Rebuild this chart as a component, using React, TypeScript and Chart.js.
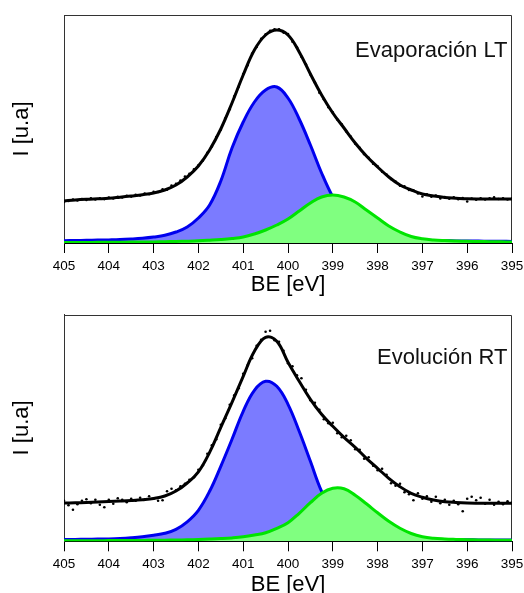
import React, { useEffect, useRef } from "react";
import { Chart, registerables } from "chart.js";
Chart.register(...registerables);

// Binding energy grids (eV)
const fitBE = [405, 404.75, 404.5, 404.25, 404, 403.75, 403.5, 403.25, 403, 402.75, 402.5, 402.25, 402, 401.75, 401.5, 401.25, 401, 400.75, 400.5, 400.25, 400, 399.75, 399.5, 399.25, 399, 398.75, 398.5, 398.25, 398, 397.75, 397.5, 397.25, 397, 396.75, 396.5, 396.25, 396, 395.75, 395.5, 395.25, 395];
const dataBE = [405.0, 404.9, 404.8, 404.7, 404.6, 404.5, 404.4, 404.3, 404.2, 404.1, 404.0, 403.9, 403.8, 403.7, 403.6, 403.5, 403.4, 403.3, 403.2, 403.1, 403.0, 402.9, 402.8, 402.7, 402.6, 402.5, 402.4, 402.3, 402.2, 402.1, 402.0, 401.9, 401.8, 401.7, 401.6, 401.5, 401.4, 401.3, 401.2, 401.1, 401.0, 400.9, 400.8, 400.7, 400.6, 400.5, 400.4, 400.3, 400.2, 400.1, 400.0, 399.9, 399.8, 399.7, 399.6, 399.5, 399.4, 399.3, 399.2, 399.1, 399.0, 398.9, 398.8, 398.7, 398.6, 398.5, 398.4, 398.3, 398.2, 398.1, 398.0, 397.9, 397.8, 397.7, 397.6, 397.5, 397.4, 397.3, 397.2, 397.1, 397.0, 396.9, 396.8, 396.7, 396.6, 396.5, 396.4, 396.3, 396.2, 396.1, 396.0, 395.9, 395.8, 395.7, 395.6, 395.5, 395.4, 395.3, 395.2, 395.1, 395.0];

// Panel 1: Evaporación LT
const topFit = [42, 43, 43.7, 44.2, 44.7, 45.8, 47, 48.3, 50, 53, 58, 66, 77, 93, 114, 140, 168, 193, 208, 213, 208, 191, 169, 148, 130, 115, 100, 87, 76, 66, 58, 53, 49, 47, 45.5, 44.8, 44.2, 44, 44, 44, 44];
const topBlue = [2.3, 2.5, 2.7, 2.9, 3.1, 3.4, 4, 4.8, 6, 7.7, 11, 16, 25, 38, 62, 95, 121, 141, 153, 156, 145, 124, 98, 70, 46, 28, 16, 10, 6.5, 4.8, 3.8, 3.2, 2.8, 2.5, 2.3, 2.1, 2, 1.9, 1.8, 1.7, 1.6];
const topGreen = [0.5, 0.55, 0.6, 0.65, 0.7, 0.8, 0.9, 1.0, 1.1, 1.3, 1.5, 1.8, 2.2, 2.8, 3.5, 4.5, 6, 9, 13, 18, 24, 32, 40, 46, 48, 46, 41, 33, 25, 17, 11, 6.5, 4.2, 3, 2.4, 2, 1.7, 1.5, 1.3, 1.15, 1];
const topData = [41, 42.0, 43.5, 42.6, 43.9, 43.0, 44.8, 43.5, 44.6, 43.9,
  45.4, 44.6, 46.2, 45.5, 47.3, 46.4, 48.2, 47.6, 49.4, 48.9,
  51.1, 51.0, 53.6, 53.3, 57.4, 59.2, 62.5, 66.5, 69.2, 73.6,
  77.8, 82.4, 90.3, 96.4, 105.9, 113.2, 124.8, 133.8, 146.6, 156.2,
  168.9, 177.8, 189.4, 196.0, 204.1, 208.6, 212.3, 213.8, 213.6, 210.4,
  208.9, 201.2, 195.8, 186.3, 178.7, 168.4, 160.6, 150.2, 143.7, 135.8,
  130.6, 123.4, 118.7, 111.6, 106.5, 99.3, 95.2, 88.8, 85.1, 79.2,
  76.6, 71.3, 68.5, 63.9, 61.4, 57.2, 56.6, 53.1, 52.8, 49.6,
  46.5, 48.6, 46.3, 47.5, 44.6, 45.9, 44.2, 45.6, 43.7, 45.0,
  41.5, 44.5, 43.3, 44.6, 43.5, 44.7, 45.6, 44.0, 44.8, 43.6,
  44.4];

// Panel 2: Evolución RT
const botFit = [38.3, 38.5, 38.8, 39.2, 39.7, 40.2, 40.8, 41.6, 42.8, 45.3, 50.3, 58.3, 69.5, 89, 114, 139, 165, 190, 204, 200, 179, 160, 142, 127, 115, 104, 94, 83, 73, 63, 54.6, 48, 44, 41.3, 39.6, 38.8, 38.3, 38.1, 38, 38, 38];
const botBlue = [1.7, 1.9, 2.0, 2.2, 2.4, 2.8, 3.5, 4.5, 6, 8, 12, 19.5, 31, 50, 75, 102, 130, 151, 160, 155, 137, 110, 80, 50, 30, 18, 10.5, 6.5, 4.5, 3.5, 2.8, 2.4, 2.1, 1.9, 1.8, 1.6, 1.5, 1.4, 1.3, 1.25, 1.2];
const botGreen = [0.5, 0.55, 0.6, 0.65, 0.7, 0.75, 0.8, 0.9, 1.0, 1.1, 1.3, 1.5, 1.8, 2.2, 2.7, 3.4, 4.5, 6.3, 8.6, 13, 18.6, 28, 38.6, 48, 53, 52.5, 46, 37.5, 28.5, 20, 13, 7.8, 4.6, 3.0, 2.3, 1.9, 1.6, 1.4, 1.2, 1.1, 1.0];
const botData = [40.5, 36.0, 31.5, 37.0, 40.5, 42.0, 38.0, 41.5, 36.5, 34.0,
  41.5, 37.5, 43.0, 41.5, 39.0, 42.5, 40.5, 43.5, 42.0, 45.0,
  42.5, 40.5, 41.0, 50.0, 52.5, 51.0, 55.0, 57.5, 61.5, 64.0,
  71.5, 76.0, 87.5, 96.0, 102.0, 116.5, 123.0, 136.5, 146.0, 153.0,
  167.5, 176.0, 183.0, 195.5, 201.5, 209.5, 210.5, 201.0, 199.5, 190.5,
  178.0, 175.0, 166.0, 163.0, 151.5, 141.0, 138.5, 131.5, 122.0, 118.0,
  118.5, 108.0, 104.0, 105.5, 101.0, 92.0, 91.5, 82.5, 84.0, 75.5,
  71.0, 72.5, 66.5, 58.0, 55.5, 57.5, 49.0, 47.0, 41.0, 48.0,
  42.5, 45.0, 39.5, 44.5, 38.0, 41.5, 36.5, 40.5, 37.0, 30.0,
  42.5, 44.5, 41.0, 43.5, 37.5, 41.5, 36.5, 39.5, 37.0, 40.0,
  38.5];

const FONT = "'Liberation Sans', Arial, Helvetica, sans-serif";

function pts(xs: number[], ys: number[]) {
  return xs.map((x, i) => ({ x, y: ys[i] }));
}

type PanelProps = {
  label: string;
  labelBaseline: number;
  fit: number[];
  blue: number[];
  green: number[];
  data: number[];
  padTop: number;
  xHeight: number;
  yMax: number;
  top: number;
};

function Panel(p: PanelProps) {
  const ref = useRef<HTMLCanvasElement | null>(null);
  useEffect(() => {
    if (!ref.current) return;
    const framePlugin = {
      id: "frame",
      beforeDatasetsDraw(chart: any) {
        const { ctx, chartArea: a } = chart;
        ctx.save();
        ctx.strokeStyle = "#333";
        ctx.lineWidth = 1;
        ctx.beginPath();
        const l = Math.round(a.left) + 0.5;
        const t = Math.round(a.top) + 0.5;
        const r = Math.round(a.right) - 0.5;
        const b = Math.round(a.bottom);
        ctx.moveTo(l, b);
        ctx.lineTo(l, t);
        ctx.lineTo(r, t);
        ctx.lineTo(r, b);
        ctx.stroke();
        ctx.restore();
      },
      afterDraw(chart: any) {
        const { ctx } = chart;
        ctx.save();
        ctx.fillStyle = "#111";
        ctx.font = `22px ${FONT}`;
        ctx.textAlign = "right";
        ctx.textBaseline = "alphabetic";
        ctx.fillText(p.label, 507.5, p.labelBaseline);
        ctx.restore();
      },
    };
    const chart = new Chart(ref.current, {
      type: "line",
      data: {
        datasets: [
          {
            label: "data",
            data: pts(dataBE, p.data),
            showLine: false,
            pointRadius: 1.3,
            pointBorderWidth: 0,
            pointBackgroundColor: "#000",
            borderColor: "#000",
          },
          {
            label: "fit",
            data: pts(fitBE, p.fit),
            borderColor: "#000",
            borderWidth: 3,
            pointRadius: 0,
            tension: 0.4,
            fill: false,
          },
          {
            label: "green",
            data: pts(fitBE, p.green),
            borderColor: "#00e400",
            backgroundColor: "#80ff80",
            borderWidth: 3,
            pointRadius: 0,
            tension: 0.4,
            fill: "origin",
          },
          {
            label: "blue",
            data: pts(fitBE, p.blue),
            borderColor: "#0000ee",
            backgroundColor: "#7b7bff",
            borderWidth: 3,
            pointRadius: 0,
            tension: 0.4,
            fill: "origin",
          },
        ],
      } as any,
      options: {
        responsive: false,
        animation: false,
        events: [],
        layout: { padding: { left: 0, right: 12, top: p.padTop, bottom: 0 } },
        plugins: { legend: { display: false }, tooltip: { enabled: false } },
        scales: {
          x: {
            type: "linear",
            min: 395,
            max: 405,
            reverse: true,
            afterFit: (s: any) => {
              s.height = p.xHeight;
              s.paddingLeft = 0;
              s.paddingRight = 0;
            },
            ticks: { stepSize: 1, color: "#000", padding: 5, font: { family: FONT, size: 13.5 }, maxRotation: 0 },
            grid: { drawOnChartArea: false, drawTicks: true, tickLength: 10, color: "#000", tickWidth: 1 },
            border: { display: true, color: "#000", width: 1 },
            title: { display: true, text: "BE [eV]", color: "#000", font: { family: FONT, size: 22 }, padding: { top: 0, bottom: 2 } },
          },
          y: {
            type: "linear",
            min: 0,
            max: p.yMax,
            afterFit: (s: any) => {
              s.width = 64;
              s.paddingTop = 0;
              s.paddingBottom = 0;
            },
            ticks: { display: false },
            grid: { display: false },
            border: { display: true, color: "#333", width: 1 },
            title: { display: true, text: "I [u.a]", color: "#000", font: { family: FONT, size: 22 }, padding: { top: 9, bottom: 0 } },
          },
        },
      } as any,
      plugins: [framePlugin],
    });
    return () => chart.destroy();
  }, []);
  return (
    <canvas
      ref={ref}
      width={524}
      height={300}
      style={{ position: "absolute", left: 0, top: p.top, width: 524, height: 300, display: "block" }}
    />
  );
}

export default function App() {
  return (
    <div style={{ position: "fixed", left: 0, top: 0, width: 524, height: 593, overflow: "hidden", background: "#fff" }}>
      <Panel label="Evaporación LT" labelBaseline={56.5} fit={topFit} blue={topBlue} green={topGreen} data={topData} padTop={15} xHeight={57} yMax={228} top={0} />
      <Panel label="Evolución RT" labelBaseline={64} fit={botFit} blue={botBlue} green={botGreen} data={botData} padTop={14.5} xHeight={58.7} yMax={226.8} top={300} />
    </div>
  );
}
